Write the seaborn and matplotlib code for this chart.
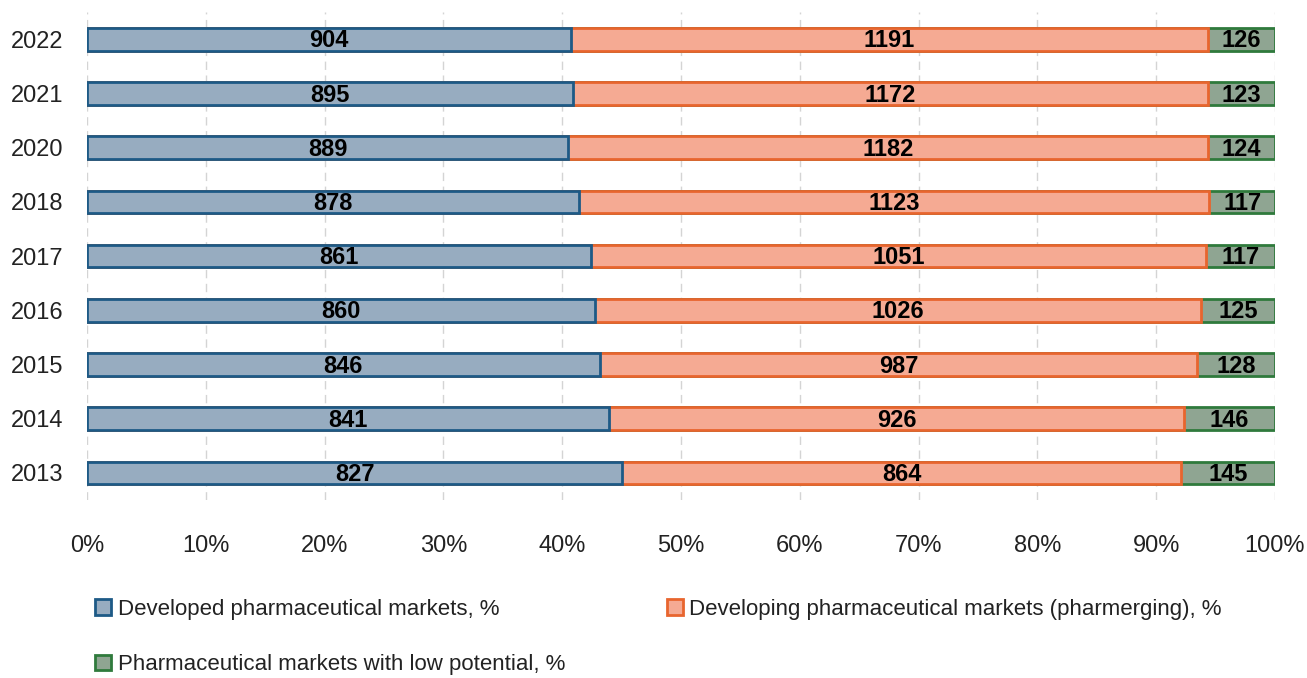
import seaborn as sns
import numpy as np
import pandas as pd
import matplotlib
matplotlib.use("Agg")
import matplotlib.pyplot as plt
from matplotlib.patches import Patch
from matplotlib.ticker import PercentFormatter

# data
years = ["2022", "2021", "2020", "2018", "2017", "2016", "2015", "2014", "2013"]
developed = [904, 895, 889, 878, 861, 860, 846, 841, 827]
developing = [1191, 1172, 1182, 1123, 1051, 1026, 987, 926, 864]
low_potential = [126, 123, 124, 117, 117, 125, 128, 146, 145]
labels = ["Developed pharmaceutical markets, %",
          "Developing pharmaceutical markets (pharmerging), %",
          "Pharmaceutical markets with low potential, %"]

sns.set_theme(style="white")
plt.rcParams["font.family"] = ["Liberation Sans", "DejaVu Sans"]

df = pd.DataFrame({"year": years, "dev": developed, "devg": developing, "low": low_potential})
total = df.dev + df.devg + df.low
df["p1"] = df.dev / total * 100
df["p2"] = (df.dev + df.devg) / total * 100
df["p3"] = 100.0

fills = ["#97acc0", "#f5aa93", "#8fa592"]
edges = ["#1d5a86", "#e8652e", "#2f7a3c"]

fig, ax = plt.subplots(figsize=(13.07, 6.78), dpi=100)
fig.subplots_adjust(left=0.0666, right=0.9755, top=0.982, bottom=0.2625)

# stacked by overdrawing cumulative shares
for col, fc, ec in zip(["p3", "p2", "p1"], fills[::-1], edges[::-1]):
    sns.barplot(data=df, x=col, y="year", orient="h", color=fc, edgecolor=ec,
                linewidth=2, width=0.42, saturation=1, ax=ax)

starts = [np.zeros(len(df)), df.p1.values, df.p2.values]
ends = [df.p1.values, df.p2.values, df.p3.values]
vals = [developed, developing, low_potential]
for s, e, v in zip(starts, ends, vals):
    for i in range(len(df)):
        ax.text((s[i] + e[i]) / 2, i + 0.03, str(v[i]), ha="center", va="center",
                fontsize=17, fontweight="bold", color="black")

ax.set_xlim(0, 100)
ax.set_ylim(8.5, -0.5)
ax.set_xticks(np.arange(0, 101, 10))
ax.xaxis.set_major_formatter(PercentFormatter(decimals=0))
ax.xaxis.grid(True, color="#d4d4d4", linestyle=(0, (6, 4)), linewidth=1)
ax.set_axisbelow(True)
ax.set_xlabel("")
ax.set_ylabel("")
ax.tick_params(axis="x", labelsize=17, pad=25, length=0, labelcolor="#222222")
ax.tick_params(axis="y", labelsize=17, pad=17, length=0, labelcolor="#222222")
for sp in ax.spines.values():
    sp.set_visible(False)

# legend fills column by column, so order as dev, low, developing
handles = [Patch(facecolor=f, edgecolor=e, linewidth=2) for f, e in zip(fills, edges)]
order = [0, 2, 1]
fig.legend([handles[i] for i in order], [labels[i] for i in order],
           loc="upper left", bbox_to_anchor=(0.073, 0.117), ncol=2,
           frameon=False, fontsize=16, handlelength=0.7, handleheight=0.7,
           handletextpad=0.3, columnspacing=4.6, labelspacing=1.55,
           borderaxespad=0, borderpad=0, labelcolor="#222222")

plt.savefig("out.png", dpi=100)
